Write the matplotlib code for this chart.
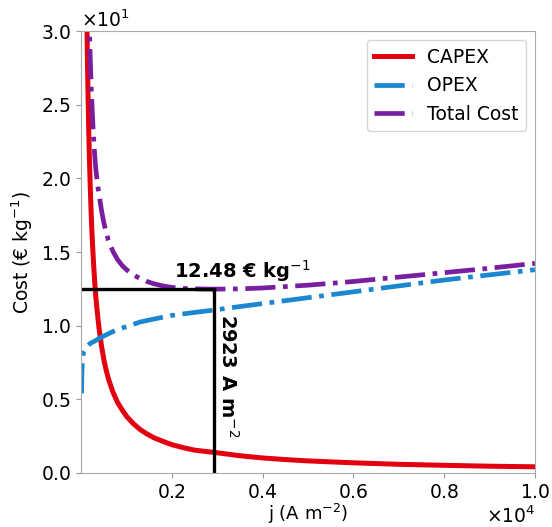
import matplotlib
matplotlib.use("Agg")
import matplotlib.pyplot as plt
from matplotlib.ticker import ScalarFormatter

# values (j in A m^-2, cost in EUR/kg)
capex_j = [110, 120, 130, 140, 150, 165, 180, 200, 220, 240, 260, 280, 300,
           325, 350, 375, 400, 450, 500, 550, 600, 700, 800, 900, 1000, 1150,
           1300, 1450, 1600, 1800, 2000, 2250, 2500, 2923, 3500, 4000, 4500,
           5000, 6000, 7000, 8000, 9000, 10000]
capex_cost = [35.0, 32.5, 30.0, 27.9, 26.0, 23.6, 21.6, 19.5, 17.7, 16.2,
              15.0, 13.9, 12.9, 11.9, 11.1, 10.35, 9.7, 8.6, 7.7, 7.0, 6.4,
              5.5, 4.8, 4.3, 3.85, 3.35, 2.95, 2.65, 2.4, 2.15, 1.92, 1.72,
              1.55, 1.40, 1.17, 1.02, 0.91, 0.82, 0.69, 0.59, 0.52, 0.46, 0.42]

opex_j = [10, 15, 25, 50, 100, 200, 300, 400, 500, 600, 800, 1000, 1300, 1600,
          2000, 2500, 2923, 3500, 4000, 5000, 6000, 7000, 8000, 9000, 10000]
opex_cost = [5.4, 6.6, 7.5, 8.2, 8.5, 8.8, 8.95, 9.15, 9.3, 9.45, 9.75, 9.93,
             10.25, 10.45, 10.7, 10.9, 11.06, 11.3, 11.5, 11.9, 12.3, 12.7,
             13.1, 13.45, 13.8]

total_j = [160, 170, 180, 200, 220, 240, 260, 280, 300, 325, 350, 375, 400,
           450, 500, 550, 600, 700, 800, 900, 1000, 1150, 1300, 1450, 1600,
           1800, 2000, 2250, 2500, 2923, 3500, 4000, 5000, 6000, 7000, 8000,
           9000, 10000]
total_cost = [33.0, 31.6, 30.3, 28.2, 26.3, 24.9, 23.6, 22.5, 21.5, 20.6,
              19.9, 19.3, 18.8, 17.8, 17.0, 16.35, 15.8, 15.05, 14.5, 14.1,
              13.8, 13.45, 13.2, 13.0, 12.85, 12.7, 12.6, 12.53, 12.5, 12.48,
              12.5, 12.56, 12.75, 13.0, 13.3, 13.6, 13.9, 14.23]

j_opt = 2923
cost_min = 12.48

fig = plt.figure(figsize=(5.52, 5.27), dpi=100)
ax = fig.add_axes([0.147, 0.1025, 0.822, 0.8385])

ax.plot(capex_j, capex_cost, color="#e3000f", lw=3.6, label="CAPEX")
ax.plot(opex_j, opex_cost, color="#1b87d0", lw=3.4, ls="-.", label="OPEX")
ax.plot(total_j, total_cost, color="#7a1ea1", lw=3.4, ls="-.", label="Total Cost")

# optimum marker lines
ax.plot([0, j_opt], [cost_min, cost_min], color="black", lw=2.4)
ax.plot([j_opt, j_opt], [0, cost_min], color="black", lw=2.4)

ax.text(3550, 12.85, "12.48 € kg$^{-1}$", fontsize=14, fontweight="bold",
        ha="center", va="bottom")
ax.text(2990, 10.8, "2923 A m$^{-2}$", fontsize=14, fontweight="bold",
        rotation=-90, ha="left", va="top")

ax.set_xlim(0, 10000)
ax.set_ylim(0, 30)
ax.set_xticks([2000, 4000, 6000, 8000, 10000])
ax.set_yticks([0, 5, 10, 15, 20, 25, 30])

for axis in (ax.xaxis, ax.yaxis):
    fmt = ScalarFormatter(useMathText=True)
    fmt.set_powerlimits((0, 0))
    axis.set_major_formatter(fmt)

ax.tick_params(labelsize=13.5, color="#999999")
ax.xaxis.get_offset_text().set_fontsize(13.5)
ax.yaxis.get_offset_text().set_fontsize(13.5)
for sp in ax.spines.values():
    sp.set_color("#aaaaaa")

ax.set_xlabel("j (A m$^{-2}$)", fontsize=13, labelpad=0)
ax.set_ylabel("Cost (€ kg$^{-1}$)", fontsize=13.5)
ax.legend(loc="upper right", fontsize=13.5)

fig.savefig("out.png", dpi=100)
